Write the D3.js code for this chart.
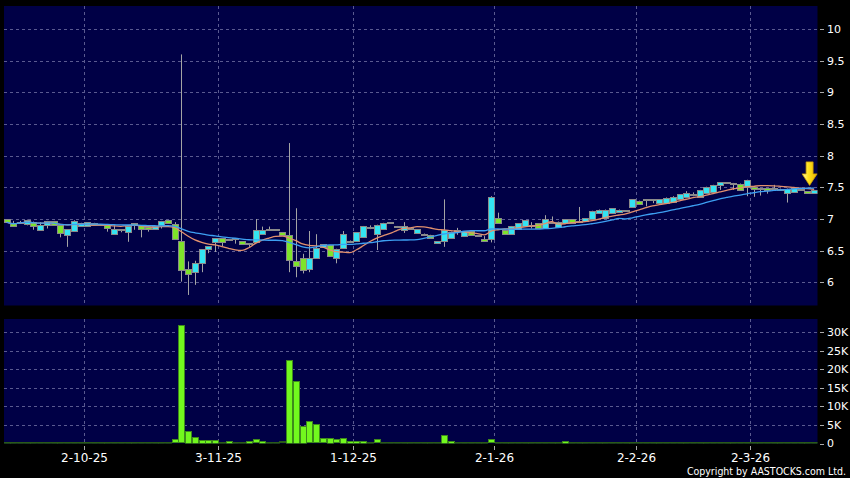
<!DOCTYPE html>
<html>
<head>
<meta charset="utf-8">
<script src="https://cdn.jsdelivr.net/npm/d3@7"></script>
<style>
body{margin:0;background:#000;}
text{font-family:"DejaVu Sans",sans-serif;fill:#fff;}
</style>
</head>
<body>
<div class="visualization"></div>
<script>
//daily candles, oldest first
const open = [7.00,6.94,6.95,6.93,6.96,6.82,6.90,6.97,6.90,6.75,
	6.81,6.90,6.88,6.94,6.91,6.91,6.76,6.83,6.79,6.93,
	6.90,6.87,6.84,6.90,6.98,6.92,6.65,6.21,6.17,6.30,
	6.53,6.64,6.70,6.66,6.68,6.65,6.60,6.63,6.76,6.83,
	6.84,6.79,6.74,6.34,6.38,6.21,6.38,6.55,6.59,6.38,
	6.55,6.65,6.64,6.72,6.86,6.75,6.84,6.94,6.89,6.83,
	6.84,6.77,6.76,6.75,6.62,6.65,6.70,6.81,6.73,6.81,
	6.74,6.68,6.68,7.01,6.83,6.77,6.84,6.89,6.90,6.93,
	6.85,6.95,6.88,6.93,7.00,6.96,6.96,7.01,7.10,7.03,
	7.09,7.12,7.15,7.19,7.29,7.31,7.31,7.24,7.25,7.27,
	7.31,7.34,7.39,7.35,7.42,7.43,7.53,7.58,7.57,7.56,
	7.50,7.50,7.48,7.49,7.49,7.48,7.41,7.42,7.47,7.44,
	7.41];
const high = [7.00,6.97,6.97,6.99,6.96,6.95,6.97,6.97,6.90,6.84,
	6.98,6.94,6.95,6.94,6.92,6.91,6.90,6.84,6.89,6.93,
	6.90,6.87,6.89,6.97,6.98,6.95,9.60,6.33,6.34,6.52,
	6.57,6.70,6.70,6.68,6.70,6.65,6.62,7.00,6.88,6.88,
	6.84,6.79,8.20,7.17,6.45,6.81,6.76,6.60,6.59,6.53,
	6.81,6.66,6.79,6.89,6.90,6.91,6.94,6.95,6.89,6.95,
	6.85,6.84,6.77,6.75,6.65,7.31,6.80,6.86,6.81,6.81,
	6.74,6.73,7.36,7.10,6.83,6.89,6.93,6.98,6.95,6.93,
	7.06,7.04,6.96,7.00,7.00,7.19,7.01,7.13,7.15,7.15,
	7.17,7.15,7.15,7.31,7.29,7.31,7.31,7.31,7.34,7.36,
	7.39,7.44,7.42,7.46,7.51,7.54,7.58,7.58,7.57,7.56,
	7.62,7.50,7.49,7.49,7.54,7.48,7.48,7.49,7.47,7.44,
	7.46];
const low = [6.95,6.90,6.94,6.90,6.83,6.82,6.85,6.90,6.71,6.56,
	6.81,6.90,6.88,6.91,6.91,6.80,6.76,6.79,6.64,6.83,
	6.71,6.80,6.84,6.85,6.94,6.68,6.01,5.80,5.96,6.16,
	6.46,6.48,6.57,6.66,6.61,6.60,6.56,6.63,6.76,6.83,
	6.83,6.74,6.16,6.08,6.14,6.16,6.38,6.55,6.42,6.30,
	6.55,6.65,6.64,6.72,6.84,6.51,6.84,6.94,6.87,6.78,
	6.84,6.77,6.76,6.70,6.62,6.56,6.70,6.75,6.73,6.74,
	6.72,6.65,6.63,6.93,6.77,6.77,6.84,6.89,6.85,6.85,
	6.85,6.95,6.88,6.93,6.94,6.96,6.96,7.01,7.10,7.03,
	7.09,7.12,7.15,7.19,7.25,7.20,7.25,7.24,7.25,7.27,
	7.31,7.34,7.36,7.35,7.42,7.43,7.46,7.57,7.46,7.46,
	7.36,7.35,7.37,7.40,7.49,7.46,7.26,7.42,7.46,7.41,
	7.41];
const close = [6.95,6.90,6.96,6.99,6.90,6.90,6.97,6.90,6.77,6.84,
	6.97,6.94,6.95,6.91,6.92,6.86,6.84,6.84,6.89,6.90,
	6.84,6.84,6.89,6.97,6.94,6.68,6.19,6.13,6.31,6.52,
	6.57,6.70,6.63,6.68,6.70,6.60,6.62,6.82,6.82,6.84,
	6.83,6.74,6.34,6.26,6.19,6.38,6.54,6.60,6.42,6.53,
	6.77,6.66,6.79,6.89,6.87,6.90,6.94,6.95,6.87,6.89,
	6.85,6.84,6.77,6.70,6.65,6.83,6.80,6.82,6.81,6.74,
	6.72,6.65,7.35,6.93,6.77,6.89,6.93,6.98,6.91,6.85,
	7.00,6.96,6.96,7.00,6.94,6.97,7.01,7.13,7.15,7.15,
	7.17,7.15,7.15,7.31,7.25,7.31,7.31,7.31,7.33,7.35,
	7.39,7.41,7.40,7.46,7.51,7.54,7.58,7.57,7.57,7.46,
	7.61,7.47,7.49,7.46,7.49,7.46,7.48,7.49,7.46,7.41,
	7.46];
//shares traded
const volume = [100,100,100,300,300,200,100,100,400,500,
	200,100,300,100,100,100,100,100,100,300,
	300,300,100,100,100,1100,31900,3400,1800,1000,
	1000,1000,400,700,300,300,700,1200,700,500,
	400,600,22600,16900,4800,6000,5200,1400,1500,1100,
	1600,700,800,800,300,1200,300,300,300,300,
	300,200,300,500,400,2300,700,300,200,300,
	200,200,1200,300,400,400,200,200,200,300,
	300,100,200,700,200,100,200,400,100,100,
	100,100,100,300,300,100,200,100,300,100,
	100,100,300,100,100,200,300,300,300,300,
	300,300,300,200,100,100,100,100,100,100,
	100];
//index of the candle each date label belongs to
const dateTicks = [11,31,51,72,93,110];
const dateLabels = ["2-10-25","3-11-25","1-12-25","2-1-26","2-2-26","2-3-26"];
const priceTicks = [6,6.5,7,7.5,8,8.5,9,9.5,10];
const volumeTicks = [0,5000,10000,15000,20000,25000,30000];
const maPeriods = [10,20];

const width = 850;
const height = 478;
const mainBox = {left:4, right:817.5, top:6, bottom:305.5};
const volBox = {left:4, right:817.5, top:319, bottom:443.5};

const upColor = "#34e4f2";
const downColor = "#7ee42a";
const gridColor = "#5a5a90";

const svg = d3.select(".visualization")
		.append("svg")
		.attr("width", width)
		.attr("height", height)
		.style("display","block")
		.style("background","#000");

const n = close.length;
const x = d3.scaleLinear().domain([0, n - 1]).range([6.5, 814.1]);
const step = x(1) - x(0);
const y = d3.scaleLinear().domain([6, 10]).range([282.3, 29.1]);
const yv = d3.scaleLinear().domain([0, 30000]).range([443.5, 332.3]);

//panels
[mainBox, volBox].forEach((b, k) => {
	svg.append("rect")
		.attr("x", b.left).attr("y", b.top)
		.attr("width", b.right - b.left).attr("height", b.bottom - b.top)
		.attr("fill", "#000046");
	svg.append("clipPath").attr("id", "clip" + k)
		.append("rect")
		.attr("x", b.left).attr("y", b.top)
		.attr("width", b.right - b.left).attr("height", b.bottom - b.top);
});

const gridX = i => Math.round(x(i) + step * 0.5) + 0.5;

//grid lines
const grid = svg.append("g")
		.attr("stroke", gridColor)
		.attr("stroke-dasharray", "3,3")
		.attr("stroke-width", 1);
grid.selectAll(".hp").data(priceTicks).enter().append("line")
		.attr("x1", mainBox.left).attr("x2", mainBox.right)
		.attr("y1", d => Math.round(y(d)) + 0.5).attr("y2", d => Math.round(y(d)) + 0.5);
grid.selectAll(".hv").data(volumeTicks.slice(1)).enter().append("line")
		.attr("x1", volBox.left).attr("x2", volBox.right)
		.attr("y1", d => Math.round(yv(d)) + 0.5).attr("y2", d => Math.round(yv(d)) + 0.5);
[mainBox, volBox].forEach(b => {
	grid.append("g").selectAll("line").data(dateTicks).enter().append("line")
		.attr("x1", gridX).attr("x2", gridX)
		.attr("y1", b.top).attr("y2", b.bottom);
});

//candles
const idx = d3.range(n);
const candles = svg.append("g").attr("clip-path", "url(#clip0)");
candles.selectAll(".wick").data(idx).enter().append("line")
		.attr("x1", i => Math.round(x(i)) + 0.5).attr("x2", i => Math.round(x(i)) + 0.5)
		.attr("y1", i => y(high[i])).attr("y2", i => y(low[i]))
		.attr("stroke", "#a4a4a4");
candles.selectAll(".body").data(idx).enter().append("rect")
		.attr("x", i => Math.round(x(i)) - 2.5)
		.attr("width", 6)
		.attr("y", i => Math.round(y(Math.max(open[i], close[i]))) + 0.5)
		.attr("height", i => Math.max(1, Math.round(y(Math.min(open[i], close[i])) - y(Math.max(open[i], close[i])))))
		.attr("fill", i => close[i] > open[i] ? upColor : close[i] < open[i] ? downColor : "#9a9a9a")
		.attr("stroke", "#8a8a8a");

//moving averages of the close
const sma = p => idx.map(i => d3.mean(close.slice(Math.max(0, i - p + 1), i + 1)));
const maColors = ["#e2906e", "#3d9ff2"];
const line = d3.line().x((d, i) => x(i)).y(d => y(d)).curve(d3.curveMonotoneX);
maPeriods.forEach((p, k) => {
	candles.append("path")
		.attr("d", line(sma(p)))
		.attr("fill", "none")
		.attr("stroke", maColors[k])
		.attr("stroke-width", 1.3);
});

//volume bars, tiny ones only leave a dim outline on the floor
const barH = i => Math.round(yv(0) - yv(volume[i])) - 1;
svg.append("g").attr("clip-path", "url(#clip1)")
		.selectAll("rect").data(idx).enter().append("rect")
		.attr("x", i => Math.round(x(i)) - 2.5)
		.attr("width", 6)
		.attr("y", i => Math.min(Math.round(yv(volume[i])), Math.round(yv(0)) - 2) + 0.5)
		.attr("height", i => Math.max(1, barH(i)))
		.attr("fill", i => barH(i) > 1 ? "#72f81e" : "#2f6a1a")
		.attr("stroke", i => barH(i) > 1 ? "#3e8a1c" : "#2a5a18");

//right hand axes
const priceAxis = svg.append("g");
priceAxis.selectAll("line").data(priceTicks).enter().append("line")
		.attr("x1", 820).attr("x2", 824)
		.attr("y1", d => Math.round(y(d)) + 0.5).attr("y2", d => Math.round(y(d)) + 0.5)
		.attr("stroke", "#aaa");
priceAxis.selectAll("text").data(priceTicks).enter().append("text")
		.attr("x", 827).attr("y", d => y(d)).attr("dy", "0.36em")
		.style("font-size", "11px")
		.text(d => d3.format("~g")(d));

const volAxis = svg.append("g");
volAxis.selectAll("line").data(volumeTicks).enter().append("line")
		.attr("x1", 820).attr("x2", 824)
		.attr("y1", d => Math.round(yv(d)) + 0.5).attr("y2", d => Math.round(yv(d)) + 0.5)
		.attr("stroke", "#aaa");
volAxis.selectAll("text").data(volumeTicks).enter().append("text")
		.attr("x", 827).attr("y", d => yv(d)).attr("dy", "0.36em")
		.style("font-size", "11px")
		.text(d => d === 0 ? "0" : d / 1000 + "K");

//date axis
const dateAxis = svg.append("g");
dateAxis.selectAll("line").data(dateTicks).enter().append("line")
		.attr("x1", gridX).attr("x2", gridX)
		.attr("y1", 446).attr("y2", 450)
		.attr("stroke", "#aaa");
dateAxis.selectAll("text").data(dateTicks).enter().append("text")
		.attr("x", gridX).attr("y", 462)
		.attr("text-anchor", "middle")
		.style("font-size", "12px")
		.text((d, i) => dateLabels[i]);

//last price marker
const grad = svg.append("defs").append("linearGradient").attr("id", "gold")
		.attr("x1", "0").attr("x2", "1").attr("y1", "0").attr("y2", "0");
grad.append("stop").attr("offset", "0").attr("stop-color", "#fffbb0");
grad.append("stop").attr("offset", "0.4").attr("stop-color", "#ffe31e");
grad.append("stop").attr("offset", "1").attr("stop-color", "#eab400");
const ax = x(n - 1) - 4.5;
const ay = y(high[n - 1]) - 4.5;
svg.append("path")
		.attr("d", `M${ax - 3.5},${ay - 23.5}H${ax + 3.5}V${ay - 11.5}H${ax + 7.5}L${ax},${ay}L${ax - 7.5},${ay - 11.5}H${ax - 3.5}Z`)
		.attr("fill", "url(#gold)")
		.attr("stroke", "#c99a00")
		.attr("stroke-width", 0.8);

svg.append("text")
		.attr("x", 846).attr("y", 475)
		.attr("text-anchor", "end")
		.style("font-family", "'DejaVu Sans Condensed','DejaVu Sans',sans-serif")
		.style("font-size", "10.5px")
		.text("Copyright by AASTOCKS.com Ltd.");
</script>
</body>
</html>
